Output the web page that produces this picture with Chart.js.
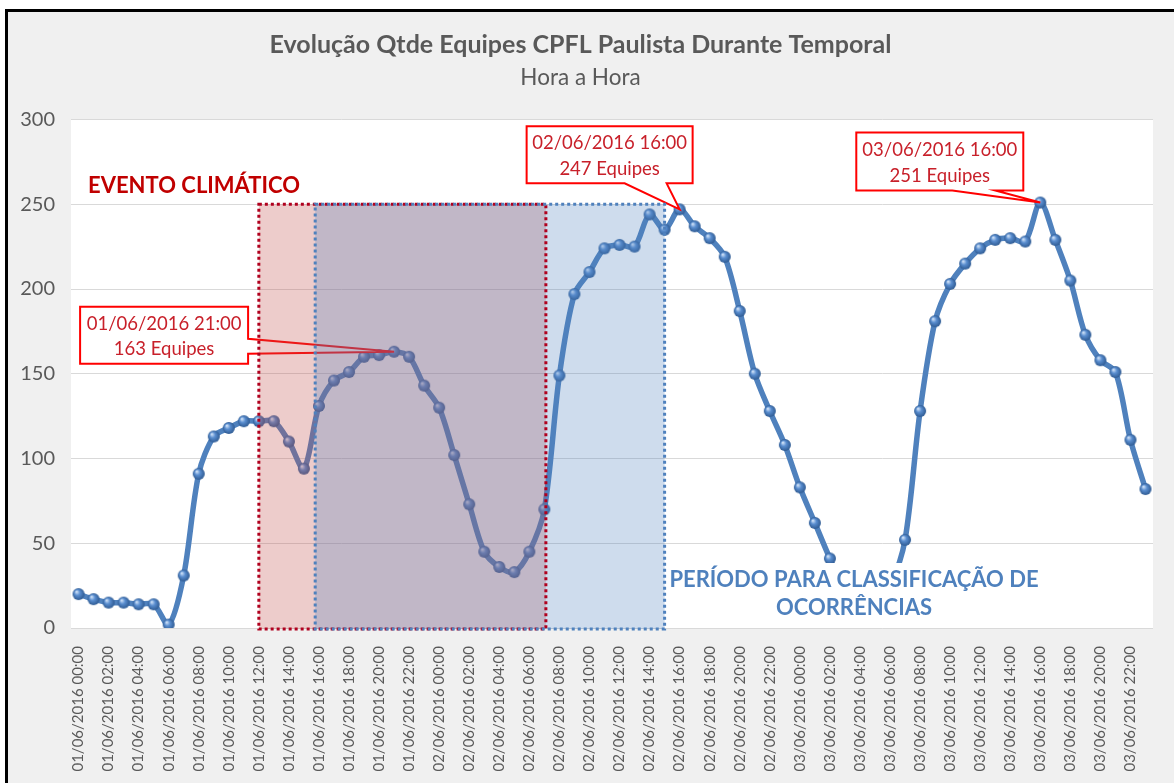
<!DOCTYPE html>
<html>
<head>
<meta charset="utf-8">
<script src="https://cdn.jsdelivr.net/npm/chart.js@4.4.1/dist/chart.umd.min.js"></script>
<style>
  html, body { margin: 0; padding: 0; background: #fff; }
</style>
</head>
<body>
<canvas id="chart" width="1174" height="783"></canvas>
<script>
// --- data ---
const days = ['01/06/2016', '02/06/2016', '03/06/2016'];
const hours = ['00:00','01:00','02:00','03:00','04:00','05:00','06:00','07:00','08:00','09:00','10:00','11:00',
               '12:00','13:00','14:00','15:00','16:00','17:00','18:00','19:00','20:00','21:00','22:00','23:00'];
const labels = [];
days.forEach(d => hours.forEach(h => labels.push(d + ' ' + h)));

const equipes = [
  20, 17, 15, 15, 14, 14, 2, 31, 91, 113, 118, 122, 122, 122, 110, 94, 131, 146, 151, 160, 161, 163, 160, 143,
  130, 102, 73, 45, 36, 33, 45, 70, 149, 197, 210, 224, 226, 225, 244, 235, 247, 237, 230, 219, 187, 150, 128, 108,
  83, 62, 41, 22, 12, 10, 24, 52, 128, 181, 203, 215, 224, 229, 230, 228, 251, 229, 205, 173, 158, 151, 111, 82
];

const yTicks = [0, 50, 100, 150, 200, 250, 300];

// peaks marked with callouts (index into labels)
const destaques = [21, 40, 64];

// shaded periods, as category positions, up to 250 equipes
const eventoClimatico = [12, 31.1];
const periodoClassificacao = [15.75, 39];
const topoFaixa = 250;

// --- helpers ---
function sphere(r) {
  const c = document.createElement('canvas');
  c.width = c.height = 2 * r + 2;
  const g = c.getContext('2d');
  const cx = r + 1, cy = r + 1;
  const grad = g.createRadialGradient(cx - r * 0.35, cy - r * 0.4, r * 0.1, cx, cy, r);
  grad.addColorStop(0, '#c9ddf5');
  grad.addColorStop(0.4, '#5a8ed0');
  grad.addColorStop(1, '#2e5a92');
  g.fillStyle = grad;
  g.beginPath();
  g.arc(cx, cy, r, 0, Math.PI * 2);
  g.fill();
  return c;
}

// callout boxes: offsets relative to the marked point
const calloutShapes = [
  { l: -314, r: -146, t: -45, b: 12, side: 'right', w1: -13, w2: 2 },
  { l: -153, r: 13, t: -83, b: -26, side: 'bottom', w1: -55, w2: -13 },
  { l: -184, r: -17, t: -70, b: -12, side: 'bottom', w1: -88, w2: -45 }
];

const decor = {
  id: 'decor',
  beforeDraw(chart) {
    const { ctx, chartArea: a, width, height } = chart;
    ctx.save();
    ctx.fillStyle = '#fff';
    ctx.fillRect(0, 0, width, height);
    ctx.fillStyle = '#f0f0f0';
    ctx.fillRect(6, 10, width - 6, height - 10);
    ctx.fillStyle = '#000';
    ctx.fillRect(5, 9, width - 5, 3);
    ctx.fillRect(5, 9, 3, height - 9);
    ctx.fillStyle = '#fff';
    ctx.fillRect(a.left, a.top, a.right - a.left, a.bottom - a.top);
    ctx.restore();
  },
  afterDatasetsDraw(chart) {
    const { ctx, chartArea: a } = chart;
    const x = chart.scales.x, y = chart.scales.y;
    ctx.save();

    // callouts
    destaques.forEach((idx, k) => {
      const s = calloutShapes[k];
      const px = x.getPixelForValue(idx), py = y.getPixelForValue(equipes[idx]);
      const l = px + s.l, r = px + s.r, t = py + s.t, b = py + s.b;
      ctx.beginPath();
      ctx.moveTo(l, t);
      ctx.lineTo(r, t);
      if (s.side === 'right') {
        ctx.lineTo(r, py + s.w1);
        ctx.lineTo(px, py);
        ctx.lineTo(r, py + s.w2);
        ctx.lineTo(r, b);
        ctx.lineTo(l, b);
      } else {
        ctx.lineTo(r, b);
        ctx.lineTo(px + s.w2, b);
        ctx.lineTo(px, py);
        ctx.lineTo(px + s.w1, b);
        ctx.lineTo(l, b);
      }
      ctx.closePath();
      ctx.fillStyle = '#fff';
      ctx.fill();
      ctx.lineWidth = 2;
      ctx.strokeStyle = '#ff0000';
      ctx.lineJoin = 'miter';
      ctx.stroke();
      ctx.fillStyle = '#c8202a';
      ctx.font = '18.5px Lato';
      ctx.textAlign = 'center';
      ctx.textBaseline = 'middle';
      const cx = (l + r) / 2, cy = (t + b) / 2;
      ctx.fillText(labels[idx], cx, cy - 11.5);
      ctx.fillText(equipes[idx] + ' Equipes', cx, cy + 14);
    });

    // shaded periods
    const top = y.getPixelForValue(topoFaixa), bot = y.getPixelForValue(0) + 1;
    const r1 = [x.getPixelForValue(eventoClimatico[0]), x.getPixelForValue(eventoClimatico[1])];
    const r2 = [x.getPixelForValue(periodoClassificacao[0]), x.getPixelForValue(periodoClassificacao[1])];
    ctx.fillStyle = 'rgba(192,80,77,0.29)';
    ctx.fillRect(r1[0], top, r1[1] - r1[0], bot - top);
    ctx.fillStyle = 'rgba(79,129,189,0.28)';
    ctx.fillRect(r2[0], top, r2[1] - r2[0], bot - top);
    ctx.lineWidth = 3;
    ctx.setLineDash([3, 3]);
    ctx.strokeStyle = '#b0001e';
    ctx.strokeRect(r1[0], top, r1[1] - r1[0], bot - top);
    ctx.strokeStyle = '#4f81bd';
    ctx.strokeRect(r2[0], top, r2[1] - r2[0], bot - top);
    ctx.setLineDash([]);

    // text labels
    ctx.font = 'bold 22px Lato';
    ctx.textBaseline = 'middle';
    ctx.textAlign = 'left';
    ctx.fillStyle = '#c00000';
    ctx.fillText('EVENTO CLIMÁTICO', a.left + 17, 186);

    const tx = 854;
    ctx.fillStyle = '#fff';
    ctx.fillRect(tx - 186, 563, 372, 61);
    ctx.fillStyle = '#4f81bd';
    ctx.textAlign = 'center';
    ctx.fillText('PERÍODO PARA CLASSIFICAÇÃO DE', tx, 580);
    ctx.fillText('OCORRÊNCIAS', tx, 608);
    ctx.restore();
  }
};

Chart.defaults.font.family = 'Lato';

new Chart(document.getElementById('chart'), {
  type: 'line',
  data: {
    labels: labels,
    datasets: [{
      label: 'Equipes',
      data: equipes,
      borderColor: '#4f81bd',
      borderWidth: 5.5,
      tension: 0.3,
      pointStyle: sphere(6),
      pointRadius: 6,
      fill: false
    }]
  },
  options: {
    responsive: false,
    animation: false,
    layout: { padding: { left: 8, right: 21, top: 0, bottom: 0 } },
    plugins: {
      legend: { display: false },
      tooltip: { enabled: false },
      title: {
        display: true,
        text: 'Evolução Qtde Equipes CPFL Paulista Durante Temporal',
        color: '#595959',
        font: { size: 25, weight: 'bold' },
        padding: { top: 30, bottom: 0 }
      },
      subtitle: {
        display: true,
        text: 'Hora a Hora',
        color: '#595959',
        font: { size: 22.5, weight: 'normal' },
        padding: { top: 4, bottom: 28.5 }
      }
    },
    scales: {
      x: {
        offset: true,
        grid: { display: false, offset: true },
        border: { display: false },
        ticks: {
          autoSkip: false,
          minRotation: 90,
          maxRotation: 90,
          padding: 10,
          color: '#595959',
          font: { size: 15 },
          callback: (v, i) => (i % 2 === 0 ? labels[i] : '')
        },
        afterFit: s => { s.height = 155; }
      },
      y: {
        min: 0,
        max: 300,
        afterBuildTicks: s => { s.ticks = yTicks.map(v => ({ value: v })); },
        grid: { color: '#d9d9d9', lineWidth: 1, drawTicks: false },
        border: { display: false },
        ticks: { padding: 16, color: '#595959', font: { size: 20 } },
        afterFit: s => { s.width = 63; }
      }
    }
  },
  plugins: [decor]
});
</script>
</body>
</html>
